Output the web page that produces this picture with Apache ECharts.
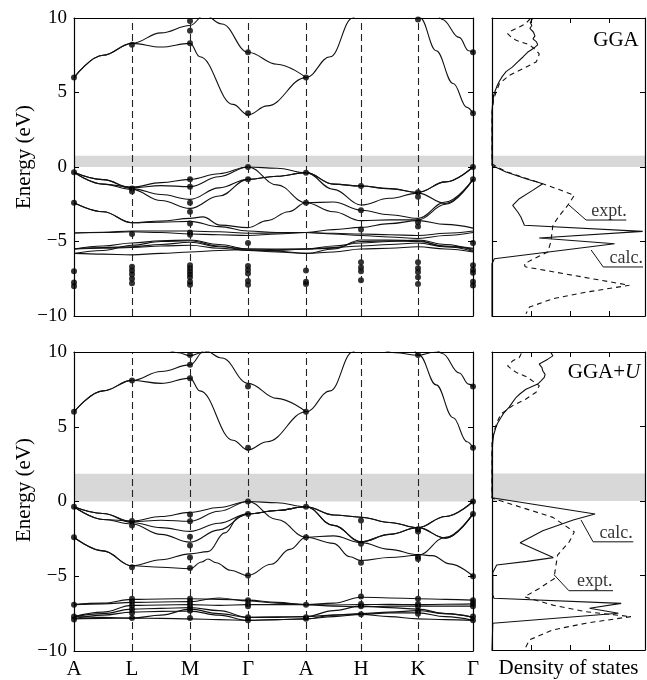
<!DOCTYPE html>
<html>
<head>
<meta charset="utf-8">
<script src="https://cdn.jsdelivr.net/npm/echarts@6/dist/echarts.min.js"></script>
<style>
  html, body { margin: 0; padding: 0; background: #fff; }
  #chart { width: 647px; height: 680px; }
</style>
</head>
<body>
<div id="chart"></div>
<script>
// high-symmetry points along the k path
var kLabels = ["A", "L", "M", "Γ", "A", "H", "K", "Γ"];
var kPos = [0, 58, 116, 174, 232, 287, 344, 399];

// band gaps shaded grey (eV)
var gapGGA = [0, 0.75];
var gapU = [0, 1.85];

// ---- GGA bands ----
// plain arrays: values at A, mid, L, mid, M, mid, Γ, mid, A, mid, H, mid, K, mid, Γ
// pair arrays: [k index, energy]
var ggaCond = [
  [[0, 6.0], [0.5, 7.5], [1, 8.3], [1.5, 8.05], [2, 8.3], [2.17, 7.4], [2.74, 4.2], [3, 3.5], [3.33, 4.1], [4, 6.0], [4.44, 7.4], [4.85, 10.0], [5, 11.2]],
  [[0, 6.0], [0.5, 7.5], [1, 8.3], [1.5, 9.0], [2, 9.5], [2.25, 10.2], [2.55, 9.6], [3, 7.7], [3.5, 6.9], [4, 6.0]],
  [[5.9, 11.2], [6.04, 10.0], [6.33, 7.8], [6.64, 5.6], [6.89, 4.0], [7, 3.6]],
  [[6.3, 10.8], [6.44, 9.9], [6.75, 8.7], [6.92, 7.8], [7, 7.7]]
];
var ggaVal = [
  [-0.36, -1.15, -1.35, -1.05, -0.83, -0.45, 0, -0.08, -0.38, -1.15, -1.28, -1.45, -1.7, -1.0, 0],
  [-0.36, -0.85, -1.4, -1.25, -1.32, -0.65, 0, -1.2, -2.4, -2.35, -2.9, -3.2, -3.45, -2.35, -0.83],
  [-0.36, -0.85, -1.45, -1.85, -2.17, -1.4, -0.83, -0.62, -0.38, -1.5, -2.55, -2.1, -1.75, -2.45, -0.83],
  [-0.36, -1.15, -1.5, -2.25, -2.78, -1.95, -0.83, -0.62, -0.38, -1.15, -1.28, -1.45, -1.7, -1.0, 0],
  [[0, -2.4], [0.5, -3.0], [1, -3.74], [1.5, -3.62], [2, -3.45], [2.22, -3.35], [2.52, -3.9], [3, -4.07], [3.33, -3.6], [3.7, -3.0], [4, -2.4], [4.5, -3.0], [5, -3.6], [5.5, -3.55], [6, -3.55], [6.5, -2.5], [7, -0.83]],
  [-2.4, -3.0, -3.74, -3.7, -3.65, -4.0, -4.3, -4.4, -4.4, -4.2, -4.05, -3.8, -3.6, -3.85, -4.1]
];
var ggaD = [
  [-4.43, -4.38, -4.3, -4.3, -4.3, -4.35, -4.45, -4.42, -4.4, -4.45, -4.5, -4.55, -4.6, -4.45, -4.3],
  [-4.43, -4.4, -4.35, -4.4, -4.5, -4.55, -4.6, -4.5, -4.4, -4.5, -4.6, -4.7, -4.8, -4.6, -4.4],
  [-5.5, -5.3, -5.1, -4.95, -4.9, -5.2, -5.5, -5.5, -5.5, -5.3, -5.1, -5.0, -4.9, -5.2, -5.6],
  [-5.5, -5.4, -5.35, -5.2, -5.05, -5.35, -5.5, -5.55, -5.5, -5.4, -5.3, -5.2, -5.1, -5.35, -5.5],
  [-5.8, -5.85, -5.9, -5.8, -5.7, -5.6, -5.55, -5.65, -5.8, -5.7, -5.5, -5.45, -5.35, -5.5, -5.7],
  [-5.5, -5.45, -5.4, -5.3, -5.25, -5.45, -5.6, -5.6, -5.5, -5.45, -5.0, -4.95, -5.0, -5.3, -5.45],
  [-5.8, -5.6, -5.25, -5.0, -4.95, -5.3, -5.6, -5.7, -5.8, -5.5, -4.9, -4.9, -4.95, -5.35, -5.65]
];
// measured points at each high-symmetry point
var ggaDots = [
  [6.0, -0.36, -2.4, -7.0, -7.75, -8.0],
  [8.2, -1.45, -1.65, -4.5, -6.7, -6.95, -7.2, -7.5, -7.8],
  [9.8, 9.15, 8.3, -0.83, -1.32, -2.4, -3.0, -3.8, -4.4, -4.55, -6.6, -6.8, -7.0, -7.2, -7.4, -7.7, -7.9],
  [7.7, 3.6, 0, -0.83, -5.1, -6.65, -6.9, -7.15, -7.65, -7.9],
  [6.0, -0.38, -2.4, -6.95, -7.7, -7.85],
  [-1.28, -2.9, -4.2, -6.4, -6.75, -7.0, -7.6],
  [9.9, -1.7, -2.0, -3.7, -4.0, -6.4, -6.8, -7.05, -7.4, -7.85],
  [7.7, 3.6, 0, -0.83, -5.1, -6.6, -6.9, -7.1, -7.7, -7.95]
];

// ---- GGA+U bands ----
var uCond = [
  [[0, 6.0], [0.5, 7.4], [1, 8.1], [1.5, 7.9], [2, 8.25], [2.17, 7.4], [2.74, 4.1], [3, 3.45], [3.33, 4.0], [4, 6.0], [4.44, 7.4], [4.85, 10.0], [5, 11.2]],
  [[0, 6.0], [0.5, 7.4], [1, 8.1], [1.5, 8.7], [2, 9.14], [2.25, 10.1], [2.55, 9.6], [3, 7.9], [3.5, 6.9], [4, 6.0]],
  [[1.6, 10.2], [1.8, 9.95], [2, 9.75], [2.2, 9.95], [2.35, 10.2]],
  [[5.3, 10.3], [5.6, 9.95], [6, 9.78], [6.3, 9.98], [6.5, 10.3]],
  [[5.9, 10.4], [6.02, 9.8], [6.33, 7.8], [6.64, 5.6], [6.89, 4.0], [7, 3.6]],
  [[6.3, 10.4], [6.44, 9.9], [6.75, 8.6], [6.92, 7.85], [7, 7.7]]
];
var uVal = [
  [-0.35, -1.2, -1.3, -1.0, -0.73, -0.4, 0, -0.08, -0.35, -0.9, -1.05, -1.4, -1.75, -1.0, 0],
  [[0, -0.35], [0.5, -0.8], [1, -1.35], [1.5, -1.25], [2, -1.32], [2.5, -0.65], [3, 0], [3.5, -1.2], [4, -2.39], [4.5, -2.8], [4.8, -3.7], [5, -3.95], [5.5, -3.75], [6, -3.6], [6.5, -2.4], [7, -0.83]],
  [-0.35, -0.8, -1.4, -1.75, -2.0, -1.45, -0.83, -0.6, -0.35, -1.6, -2.7, -2.2, -1.75, -2.45, -0.83],
  [-0.35, -1.2, -1.5, -2.2, -2.72, -1.9, -0.83, -0.6, -0.35, -0.9, -1.05, -1.4, -1.75, -1.0, 0],
  [[0, -2.39], [0.5, -3.3], [1, -4.3], [1.5, -3.9], [2, -3.5], [2.31, -3.35], [2.6, -2.1], [2.85, -1.0], [3, -0.83], [3.5, -0.6], [4, -0.35], [4.5, -1.6], [5, -2.7], [5.5, -2.2], [6, -1.75], [6.5, -2.45], [7, -0.83]],
  [[0, -2.39], [0.5, -3.3], [1, -4.3], [1.5, -4.4], [2, -4.5], [2.2, -4.05], [2.31, -3.85], [2.45, -4.1], [2.7, -4.6], [3, -4.95], [3.4, -4.2], [3.72, -3.2], [4, -2.39], [4.5, -2.3], [5, -2.75], [5.5, -3.2], [6, -3.55], [6.26, -3.62], [6.58, -4.17], [7, -5.0]]
];
var uD = [
  [-6.9, -6.85, -6.75, -6.72, -6.7, -6.45, -6.65, -6.8, -6.9, -6.8, -6.4, -6.45, -6.5, -6.55, -6.6],
  [-6.9, -6.8, -6.55, -6.52, -6.5, -6.55, -6.6, -6.75, -6.9, -6.92, -6.9, -6.88, -6.9, -6.87, -6.85],
  [-7.7, -7.4, -6.95, -6.92, -6.9, -6.95, -6.9, -6.9, -6.9, -7.0, -7.05, -7.0, -7.0, -7.0, -7.0],
  [-7.7, -7.5, -7.2, -7.15, -7.1, -7.3, -7.75, -7.75, -7.7, -7.6, -7.5, -7.4, -7.3, -7.5, -7.75],
  [-7.85, -7.6, -7.4, -7.35, -7.33, -7.6, -7.95, -7.9, -7.85, -7.7, -7.55, -7.45, -7.45, -7.7, -7.95],
  [-7.85, -7.82, -7.8, -7.82, -7.85, -7.9, -7.95, -7.9, -7.85, -7.6, -7.55, -7.7, -7.85, -7.9, -7.95],
  [-7.7, -7.75, -7.8, -7.6, -7.2, -7.5, -7.75, -7.72, -7.7, -7.3, -7.0, -7.1, -7.2, -7.5, -7.75]
];
var uDots = [
  [6.0, -0.35, -2.39, -6.9, -7.7, -7.9],
  [8.1, -1.3, -1.6, -4.4, -6.5, -6.7, -6.95, -7.2, -7.45, -7.8],
  [9.8, 9.14, 8.25, -0.87, -1.32, -2.35, -2.95, -3.75, -4.45, -6.5, -6.7, -6.9, -7.1, -7.3, -7.8],
  [7.7, 3.6, 0, -0.83, -4.95, -6.6, -6.85, -7.0, -7.75, -7.95],
  [6.0, -0.35, -2.39, -6.9, -7.75, -7.85],
  [-1.27, -2.83, -4.1, -6.35, -6.85, -7.0, -7.55],
  [9.8, -1.85, -2.0, -3.7, -3.85, -6.5, -6.85, -7.0, -7.3, -7.5],
  [7.7, 3.6, 0, -0.83, -5.0, -6.6, -6.8, -7.0, -7.7, -7.95]
];

// ---- density of states, [energy, intensity] ----
var dosCalcGGA = [
  [10, 1.05], [9.95, 1.04], [9.7, 0.98], [9.5, 1.02], [9.3, 0.97], [9.06, 1.06], [8.8, 1.1], [8.6, 1.05], [8.4, 1.14], [8.2, 1.17],
  [8.0, 1.08], [7.85, 1.0], [7.7, 0.91], [7.4, 0.8], [7.05, 0.66], [6.7, 0.52], [6.4, 0.36], [6.1, 0.27], [5.8, 0.2], [5.5, 0.14],
  [5.1, 0.08], [4.8, 0.04], [4.4, 0.03], [4.1, 0.01], [3.7, 0],
  [0.1, 0], [-0.34, 0.36], [-0.79, 0.87], [-1.12, 1.3], [-1.57, 1.04], [-2.13, 0.7], [-2.58, 0.53], [-3.02, 0.66], [-3.36, 0.74],
  [-3.91, 0.83], [-4.32, 3.86], [-4.77, 1.21], [-5.15, 3.14], [-6.16, 0.06], [-6.5, 0], [-10, 0]
];
var dosExptGGA = [
  [9.95, 0.98], [9.84, 0.96], [9.6, 0.85], [9.4, 0.7], [9.15, 0.5], [8.95, 0.4], [8.7, 0.5], [8.5, 0.62], [8.2, 0.96], [7.9, 1.1],
  [7.6, 1.21], [7.3, 1.18], [7.05, 1.13], [6.6, 0.79], [6.15, 0.44], [5.6, 0.19], [5.0, 0.1], [4.5, 0.04], [4.1, 0.02], [3.6, 0],
  [0.2, 0], [-0.3, 0.35], [-0.7, 0.8], [-1.12, 1.3], [-1.5, 1.7], [-1.9, 2.11], [-2.58, 1.94], [-3.25, 1.73], [-3.9, 1.56],
  [-5.0, 1.51], [-5.7, 1.43], [-6.2, 1.04], [-6.5, 0.83], [-6.7, 0.85], [-7.94, 3.52], [-8.4, 2.41], [-8.84, 1.56], [-9.4, 0.96], [-9.85, 0.87]
];
var dosCalcU = [
  [10, 1.5], [9.74, 1.56], [9.52, 1.43], [9.19, 1.21], [8.95, 1.28], [8.74, 1.3], [8.5, 1.36], [8.3, 1.34], [8.05, 1.25], [7.85, 1.17],
  [7.5, 0.87], [7.2, 0.72], [6.96, 0.62], [6.6, 0.52], [6.3, 0.44], [5.9, 0.3], [5.6, 0.23], [5.2, 0.14], [4.95, 0.1], [4.4, 0.04],
  [3.95, 0.02], [3.3, 0],
  [0.22, 0], [-0.87, 2.64], [-1.27, 2.08], [-2.0, 1.3], [-2.8, 0.72], [-3.3, 1.15], [-3.8, 1.57], [-4.05, 0.9], [-4.3, 0.12],
  [-4.8, 0.02], [-6.3, 0.02], [-6.53, 0.05], [-6.87, 3.31], [-7.2, 2.5], [-7.53, 3.24], [-8.2, 0.02], [-10, 0]
];
var dosExptU = [
  [9.9, 0.75], [9.63, 0.7], [9.41, 0.53], [9.07, 0.4], [8.85, 0.5], [8.63, 0.62], [8.3, 0.91], [7.74, 1.21], [7.3, 1.13], [6.85, 0.87],
  [6.4, 0.53], [5.84, 0.23], [5.4, 0.15], [4.9, 0.08], [4.4, 0.02], [3.9, 0],
  [0.2, 0], [-1.1, 1.56], [-2.07, 2.11], [-2.74, 1.98], [-3.63, 1.68], [-4.97, 1.6], [-5.2, 1.6], [-5.87, 1.21], [-6.43, 0.83],
  [-6.99, 1.56], [-7.43, 2.41], [-7.76, 3.56], [-8.2, 2.41], [-8.65, 1.56], [-9.32, 0.96], [-10, 0.83]
];

// leader lines for the DOS labels, [intensity, energy]
var leaderExptGGA = [[1.95, -2.5], [2.41, -3.56], [3.44, -3.56]];
var leaderCalcGGA = [[2.54, -5.57], [2.85, -6.71], [3.87, -6.71]];
var leaderCalcU = [[2.28, -1.27], [2.59, -2.74], [3.62, -2.74]];
var leaderExptU = [[1.59, -4.95], [1.97, -6.02], [3.1, -6.02]];
var labelPosGGA = [["expt.", 3.0, -3.56], ["calc.", 3.44, -6.71]];
var labelPosU = [["calc.", 3.18, -2.74], ["expt.", 2.63, -6.02]];

var FONT = '"Liberation Serif", "DejaVu Serif", serif';
var INK = "#111";
var DOS_MAX = 3.92;

function kx(k) {
  var i = Math.floor(k);
  if (i >= kPos.length - 1) return kPos[kPos.length - 1];
  return kPos[i] + (kPos[i + 1] - kPos[i]) * (k - i);
}
function bandData(b) {
  return b.map(function (p, i) {
    return Array.isArray(p) ? [kx(p[0]), p[1]] : [kx(i / 2), p];
  });
}
function minus(v) {
  return v < 0 ? "\u2212" + Math.abs(v) : String(v);
}

var xAxes = [];
var yAxes = [];
function frameAxis(list, gi, pos, min, max, interval, ticks) {
  list.push({
    gridIndex: gi,
    type: "value",
    position: pos,
    min: min,
    max: max,
    interval: interval,
    z: 10,
    axisLine: { show: true, onZero: false, lineStyle: { color: "#000", width: 1.2 } },
    axisTick: { show: ticks, inside: true, length: 5, lineStyle: { color: "#000", width: 1 } },
    axisLabel: { show: false },
    splitLine: { show: false }
  });
  return list[list.length - 1];
}

// grid 0: GGA bands, 1: GGA DOS, 2: GGA+U bands, 3: GGA+U DOS
[0, 1, 2, 3].forEach(function (gi) {
  var isDos = gi % 2 === 1;
  var xmax = isDos ? DOS_MAX : kPos[kPos.length - 1];
  var xb = frameAxis(xAxes, gi, "bottom", 0, xmax, isDos ? 1 : null, isDos);
  frameAxis(xAxes, gi, "top", 0, xmax, isDos ? 1 : null, isDos);
  var yl = frameAxis(yAxes, gi, "left", -10, 10, 5, true);
  frameAxis(yAxes, gi, "right", -10, 10, 5, true);
  if (!isDos) {
    yl.axisLabel = { show: true, fontFamily: FONT, fontSize: 19, color: "#000", margin: 7, formatter: minus };
  }
  if (gi === 2) {
    xb.axisLabel = {
      show: true, fontFamily: FONT, fontSize: 21, color: "#000", margin: 8,
      customValues: kPos,
      formatter: function (v) { return kLabels[kPos.indexOf(v)]; }
    };
  }
  if (gi === 3) {
    xb.name = "Density of states";
    xb.nameLocation = "middle";
    xb.nameGap = 8;
    xb.nameTextStyle = { fontFamily: FONT, fontSize: 21, color: "#000", verticalAlign: "top" };
  }
});

var series = [];

function backdrop(gi, gap, isDos) {
  series.push({
    type: "line",
    xAxisIndex: gi * 2,
    yAxisIndex: gi * 2,
    data: [[0, -50]],
    showSymbol: false,
    silent: true,
    z: 1,
    lineStyle: { opacity: 0 },
    markArea: {
      silent: true,
      itemStyle: { color: "#d8d8d8" },
      data: [[{ yAxis: gap[0] }, { yAxis: gap[1] }]]
    },
    markLine: isDos ? undefined : {
      silent: true,
      symbol: "none",
      label: { show: false },
      lineStyle: { color: "#222", width: 1.1, type: [7, 4] },
      data: kPos.slice(1, -1).map(function (v) { return { xAxis: v }; })
    }
  });
}

function bands(gi, list) {
  list.forEach(function (b) {
    series.push({
      type: "line",
      xAxisIndex: gi * 2,
      yAxisIndex: gi * 2,
      data: bandData(b),
      smooth: 0.4,
      smoothMonotone: "x",
      showSymbol: false,
      silent: true,
      z: 3,
      lineStyle: { color: INK, width: 1.1 }
    });
  });
}

function dots(gi, list) {
  var pts = [];
  list.forEach(function (arr, i) {
    arr.forEach(function (e) { pts.push([kPos[i], e]); });
  });
  series.push({
    type: "scatter",
    xAxisIndex: gi * 2,
    yAxisIndex: gi * 2,
    data: pts,
    symbolSize: 6,
    silent: true,
    z: 4,
    itemStyle: { color: "#000" }
  });
}

function dos(gi, data, dashed) {
  series.push({
    type: "line",
    xAxisIndex: gi * 2,
    yAxisIndex: gi * 2,
    data: data.map(function (p) { return [p[1], p[0]]; }),
    showSymbol: false,
    silent: true,
    z: 3,
    lineStyle: { color: INK, width: 1.1, type: dashed ? [5, 4] : "solid" }
  });
}

function leader(gi, pts) {
  series.push({
    type: "line",
    xAxisIndex: gi * 2,
    yAxisIndex: gi * 2,
    data: pts,
    showSymbol: false,
    silent: true,
    z: 3,
    lineStyle: { color: INK, width: 1 }
  });
}

function labels(gi, list) {
  series.push({
    type: "scatter",
    xAxisIndex: gi * 2,
    yAxisIndex: gi * 2,
    data: list.map(function (l) { return { name: l[0], value: [l[1], l[2]] }; }),
    symbolSize: 0,
    silent: true,
    z: 5,
    label: {
      show: true,
      position: "top",
      distance: 0,
      formatter: "{b}",
      fontFamily: FONT,
      fontSize: 18,
      color: "#000"
    }
  });
}

backdrop(0, gapGGA, false);
backdrop(1, gapGGA, true);
backdrop(2, gapU, false);
backdrop(3, gapU, true);

bands(0, ggaCond);
bands(0, ggaVal);
bands(0, ggaD);
dots(0, ggaDots);
bands(2, uCond);
bands(2, uVal);
bands(2, uD);
dots(2, uDots);

dos(1, dosCalcGGA, false);
dos(1, dosExptGGA, true);
leader(1, leaderExptGGA);
leader(1, leaderCalcGGA);
labels(1, labelPosGGA);

dos(3, dosCalcU, false);
dos(3, dosExptU, true);
leader(3, leaderCalcU);
leader(3, leaderExptU);
labels(3, labelPosU);

var chart = echarts.init(document.getElementById("chart"));
chart.setOption({
  animation: false,
  backgroundColor: "#fff",
  grid: [
    { left: 74, top: 18, width: 399, height: 298 },
    { left: 492, top: 18, width: 153, height: 298 },
    { left: 74, top: 352, width: 399, height: 299 },
    { left: 492, top: 352, width: 153, height: 299 }
  ],
  xAxis: xAxes,
  yAxis: yAxes,
  graphic: [
    {
      type: "text", x: 24, y: 157, rotation: Math.PI / 2,
      style: { text: "Energy (eV)", fontFamily: FONT, fontSize: 21, fill: "#000", textAlign: "center", textVerticalAlign: "middle" }
    },
    {
      type: "text", x: 24, y: 490, rotation: Math.PI / 2,
      style: { text: "Energy (eV)", fontFamily: FONT, fontSize: 21, fill: "#000", textAlign: "center", textVerticalAlign: "middle" }
    },
    {
      type: "text", x: 616, y: 40,
      style: { text: "GGA", fontFamily: FONT, fontSize: 21, fill: "#000", textAlign: "center", textVerticalAlign: "middle" }
    },
    {
      type: "text", x: 604, y: 372,
      style: {
        text: "GGA+{i|U}", fontFamily: FONT, fontSize: 21, fill: "#000", textAlign: "center", textVerticalAlign: "middle",
        rich: { i: { fontStyle: "italic", fontFamily: FONT, fontSize: 21, fill: "#000" } }
      }
    }
  ],
  series: series
});
</script>
</body>
</html>
